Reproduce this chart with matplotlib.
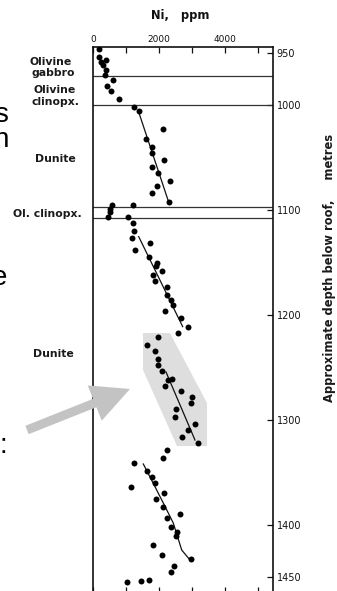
import matplotlib
matplotlib.use("Agg")
import matplotlib.pyplot as plt
from matplotlib.patches import Polygon, FancyArrow
from matplotlib.ticker import FixedLocator, FuncFormatter

# ---------------- data (Ni ppm vs depth below roof, m) ----------------
gabbro_ni    = [191, 167, 242, 379, 288, 394, 373]
gabbro_depth = [946.9, 954.2, 959.0, 957.1, 961.4, 966.6, 971.4]

ol_cpx1_ni    = [597, 433, 555, 797]
ol_cpx1_depth = [976.2, 981.9, 986.4, 994.0]

dunite1_ni    = [1242, 1403, 2121, 1597, 1779, 1788, 2152, 1788, 1970, 2324, 1948, 1788, 2312]
dunite1_depth = [1001.6, 1005.7, 1023.2, 1032.7, 1039.8, 1046.0, 1052.4, 1058.8, 1064.5,
                 1072.5, 1077.2, 1083.6, 1092.5]

ol_cpx2_ni    = [576, 515, 530, 464, 1203]
ol_cpx2_depth = [1095.6, 1099.1, 1102.0, 1107.1, 1095.3]

dunite2_ni    = [1070, 1221, 1252, 1173, 1727, 1282, 1688, 1930, 1909, 2091, 1827, 1888,
                 2233, 2252, 2355, 2433, 2191, 2676, 2879, 2585]
dunite2_depth = [1107.1, 1112.8, 1119.8, 1127.1, 1131.8, 1138.2, 1145.2, 1150.3, 1153.5,
                 1158.0, 1162.1, 1167.5, 1173.8, 1181.1, 1185.9, 1190.9, 1196.1, 1202.8,
                 1211.9, 1217.1]

highlight_ni    = [1961, 1627, 1888, 1979, 1970, 2100, 2385, 2282, 2173, 2676, 3000, 2979,
                   2515, 2494, 3091, 2888, 2697, 3182]
highlight_depth = [1221.5, 1228.5, 1234.2, 1241.9, 1247.6, 1253.9, 1260.9, 1262.2, 1267.6,
                   1272.4, 1278.7, 1284.4, 1290.1, 1297.1, 1304.1, 1309.8, 1316.8, 1321.8]

lower_ni    = [2233, 2112, 1242, 1627, 1788, 1888, 1161, 2152, 1909, 2112, 2636, 2233,
               2355, 2536, 2515, 1827, 2091, 2961, 2455, 2373, 1039, 1445, 1706]
lower_depth = [1329.2, 1336.5, 1341.0, 1348.6, 1354.9, 1360.1, 1363.9, 1369.6, 1375.3,
               1383.0, 1389.9, 1393.4, 1402.6, 1407.1, 1410.9, 1419.2, 1429.3, 1433.1,
               1439.2, 1445.2, 1454.7, 1454.1, 1452.8]

# trend lines
trend1_ni, trend1_depth = [1394, 2273], [1007.6, 1090.6]
trend2_ni, trend2_depth = [1385, 2718], [1125.5, 1211.3]
trend3_ni, trend3_depth = [2212, 3091], [1254.5, 1319.4]
trend4_ni    = [1524, 1879, 2130, 2433, 2688, 2939]
trend4_depth = [1342.2, 1363.9, 1379.4, 1398.5, 1424.2, 1433.7]

# highlighted region
region_ni    = [1515, 2333, 3455, 3455, 2545, 1515]
region_depth = [1217.4, 1217.4, 1284.1, 1325.1, 1325.1, 1252.6]

# unit boundaries
boundaries = [972.4, 1000.0, 1096.9, 1107.4]

x_ticks = [0, 1000, 2000, 3000, 4000, 5000]
x_labels = {0: "0", 2000: "2000", 4000: "4000"}
y_ticks = [950, 1000, 1100, 1200, 1300, 1400, 1450]

units = [("Olivine", 30, 65), ("gabbro", 32, 76.5), ("Olivine", 33, 93),
         ("clinopx.", 32, 105), ("Dunite", 35, 162), ("Ol. clinopx.", 13, 217),
         ("Dunite", 33, 357)]

# ---------------- figure ----------------
W, H = 337, 591
fig = plt.figure(figsize=(W / 100, H / 100), dpi=100)
fig.patch.set_facecolor("white")

top_px, bot_px, left_px, right_px = 47, 593, 93, 272.5
ax = fig.add_axes([left_px / W, 1 - bot_px / H, (right_px - left_px) / W, (bot_px - top_px) / H])
ax.set_xlim(0, 5440)
ax.set_ylim(1465.2, 944.7)

ink = "#111111"
for s in ax.spines.values():
    s.set_linewidth(1.2)
    s.set_color(ink)

ax.add_patch(Polygon(list(zip(region_ni, region_depth)), closed=True,
                     facecolor="#dedede", edgecolor="none", zorder=1))

for b in boundaries:
    ax.axhline(b, color="#333333", lw=0.9, zorder=2)

for xs, ys in [(trend1_ni, trend1_depth), (trend2_ni, trend2_depth),
               (trend3_ni, trend3_depth), (trend4_ni, trend4_depth)]:
    ax.plot(xs, ys, color=ink, lw=0.9, zorder=3)

for xs, ys in [(gabbro_ni, gabbro_depth), (ol_cpx1_ni, ol_cpx1_depth),
               (dunite1_ni, dunite1_depth), (ol_cpx2_ni, ol_cpx2_depth),
               (dunite2_ni, dunite2_depth), (highlight_ni, highlight_depth),
               (lower_ni, lower_depth)]:
    ax.plot(xs, ys, "o", color="black", ms=4.3, mec="none", zorder=4)

ax.xaxis.set_major_locator(FixedLocator(x_ticks))
ax.xaxis.set_major_formatter(FuncFormatter(lambda v, p: x_labels.get(int(round(v)), "")))
ax.xaxis.set_ticks_position("both")
ax.tick_params(axis="x", direction="in", length=4, width=0.9, color=ink,
               labeltop=True, labelbottom=False, labelsize=6.5, pad=2, labelcolor=ink)

ax.yaxis.tick_right()
ax.yaxis.set_major_locator(FixedLocator(y_ticks))
ax.tick_params(axis="y", direction="in", length=4.5, width=0.9, color=ink,
               labelsize=7, pad=3, labelcolor=ink)

# ---------------- overlay in pixel coords ----------------
ov = fig.add_axes([0, 0, 1, 1], facecolor="none")
ov.set_xlim(0, W)
ov.set_ylim(H, 0)
ov.axis("off")

ov.text(180, 16, "Ni,   ppm", ha="center", va="center", fontsize=8.3,
        fontweight="bold", color=ink)

for label, xl, yb in units:
    ov.text(xl, yb, label, ha="left", va="baseline", fontsize=7.8,
            fontweight="bold", color="#1a1a1a")

ov.text(330, 268, "Approximate depth below roof,     metres", rotation=90,
        ha="center", va="center", fontsize=8.3, fontweight="bold", color="#1a1a1a")

for ch, xr, yb in [("s", 8.5, 122), ("n", 8.5, 147), ("e", 7, 285), (":", 7.5, 453)]:
    ov.text(xr, yb, ch, ha="right", va="baseline", fontsize=20,
            family="Liberation Sans", color="black")

ov.add_patch(FancyArrow(27, 430, 103, -41, width=9, head_width=38, head_length=38,
                        length_includes_head=True, color="#c3c3c3", lw=0, zorder=5))

fig.savefig("out.png", dpi=100, facecolor="white")
